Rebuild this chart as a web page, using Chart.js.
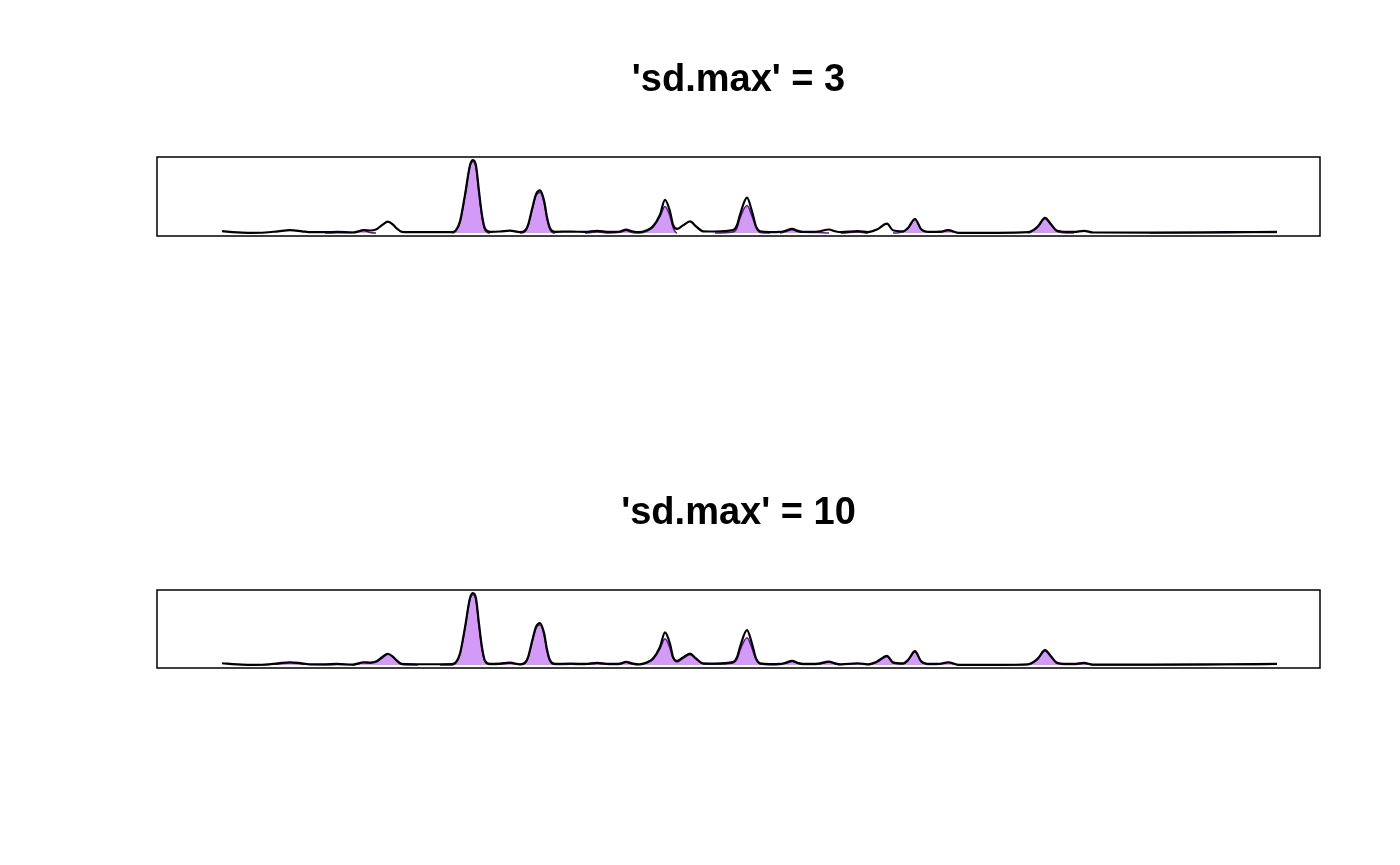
<!DOCTYPE html>
<html>
<head>
<meta charset="utf-8">
<script src="https://cdn.jsdelivr.net/npm/chart.js@4"></script>
<style>
  html, body { margin: 0; padding: 0; background: #fff; }
  .panel { position: absolute; left: 0; width: 1400px; }
</style>
</head>
<body>
<div class="panel" style="top:0;height:433px"><canvas id="chart1"></canvas></div>
<div class="panel" style="top:433px;height:432px"><canvas id="chart2"></canvas></div>
<script>
// positions along the axis (no ticks are shown in the original)
var posX = [222, 237, 250, 265, 278, 290, 302, 311, 325, 337, 353, 364, 370, 376, 382, 388, 393, 397, 402, 418,
  440, 452, 456, 460, 465, 470, 473, 476, 479, 482, 485, 490, 500, 510, 520, 525, 528, 532, 536, 540,
  544, 547, 550, 555, 571, 585, 597, 609, 620, 626, 632, 639, 646, 653, 660, 665, 670, 673, 677, 683,
  690, 696, 703, 715, 733, 737, 740, 747, 752, 756, 760, 770, 780, 786, 792, 798, 803, 818, 829, 835,
  841, 858, 868, 877, 887, 893, 903, 908, 915, 921, 930, 940, 948, 959, 998, 1028, 1034, 1038, 1045, 1051,
  1056, 1061, 1074, 1084, 1093, 1150, 1227, 1277];

// observed density (black curve), same in both panels
var density = [1.9, 0.8, 0.3, 0.6, 1.8, 2.9, 1.8, 0.9, 0.9, 1.2, 0.6, 2.9, 2.6, 3.6, 8, 11.6, 8.5, 4.5, 1.2, 0.9,
  0.9, 1.0, 3, 11.8, 38.5, 68.5, 73.6, 68, 42, 18, 4.5, 1.3, 1.6, 2.5, 0.9, 2.5, 8, 24, 39, 43,
  33, 16, 5, 1.3, 1.5, 1.2, 2.3, 1.2, 1.6, 3.4, 1.8, 0.9, 2.5, 6.8, 18.5, 33.5, 21.8, 8.5, 4.2, 7.8,
  11.8, 6.8, 1.8, 1.6, 3, 8, 18.5, 35.8, 21.8, 6.8, 1.8, 1.0, 1.2, 2.5, 4.3, 2.2, 1.2, 1.6, 3.6, 1.8,
  0.9, 1.9, 0.9, 3.6, 9.5, 2.8, 1.8, 5.2, 14.2, 4.2, 1.2, 1.4, 2.9, 0.3, 0.3, 0.9, 3.5, 6.9, 15.3, 9,
  3, 1.6, 1.2, 2.3, 0.6, 0.5, 0.9, 1.2];

// fitted components, 'sd.max' = 3
var fitSd3 = [0, 0, 0, 0, 0, 0, 0, 0, 0, 0.3, 0.5, 2.5, 0.5, 0, 0, 0, 0, 0, 0, 0,
  0, 0, 2, 11, 37.5, 67.5, 72, 66, 40, 16, 3, 0, 0, 0, 0, 1.5, 7, 23, 38, 41,
  31, 14, 3.5, 0, 0, 0, 1.0, 0, 0.8, 2.5, 0.5, 0, 1.5, 5.8, 16.8, 26.8, 16.8, 6, 0, 0,
  0, 0, 0, 0, 1, 5, 15, 27.8, 17, 6, 0.5, 0, 0, 1.5, 3.3, 1.2, 0.8, 0.5, 0, 0,
  0, 1.2, 0, 0, 0, 0, 1.2, 4.8, 13.8, 3.8, 0.8, 0.8, 2.5, 0, 0, 0, 2.8, 6.2, 14.5, 8.3,
  2.3, 0.5, 0, 0, 0, 0, 0.4, 0.6];

// fitted components, 'sd.max' = 10
var fitSd10 = [0, 0, 0, 0.2, 1.2, 2.2, 1.2, 0.3, 0.2, 0.5, 0.3, 2.3, 2.0, 3.0, 7.2, 11, 8, 3.8, 0.5, 0,
  0, 0.2, 2, 11, 37.5, 67.5, 72, 66, 40, 16, 3.5, 0.6, 0.9, 1.8, 0.3, 1.8, 7, 23, 38, 41,
  31, 14, 3.8, 0.6, 0.8, 0.6, 1.6, 0.6, 1.0, 2.8, 1.2, 0.3, 1.8, 5.8, 16.8, 27, 17, 7, 3.2, 6.8,
  10.5, 6, 1.2, 0.9, 2.2, 6, 15, 28, 17, 6, 1.2, 0.4, 0.6, 1.8, 3.6, 1.6, 0.6, 1.0, 3.0, 1.2,
  0.3, 1.3, 0.3, 3.0, 8.8, 2.2, 1.2, 4.6, 13.5, 3.6, 0.6, 0.8, 2.3, 0, 0, 0.3, 2.8, 6.2, 14.5, 8.3,
  2.3, 1.0, 0.6, 1.7, 0.2, 0.2, 0.5, 0.8];

var titles = ["'sd.max' = 3", "'sd.max' = 10"];

var boxPlugin = {
  id: 'box',
  afterDraw: function (chart) {
    var a = chart.chartArea, ctx = chart.ctx;
    ctx.save();
    ctx.strokeStyle = '#000';
    ctx.lineWidth = 1.5;
    ctx.strokeRect(a.left, a.top, a.right - a.left, a.bottom - a.top);
    ctx.restore();
  }
};

function toPoints(values) {
  return posX.map(function (x, i) { return { x: x, y: values[i] }; });
}

function makePanel(id, title, fit) {
  return new Chart(document.getElementById(id), {
    type: 'line',
    data: {
      datasets: [{
        label: 'density',
        data: toPoints(density),
        borderColor: '#000',
        borderWidth: 2.2,
        pointRadius: 0,
        fill: false,
        cubicInterpolationMode: 'monotone'
      }, {
        label: 'components',
        data: toPoints(fit),
        borderColor: '#5b1d8c',
        borderWidth: 1.5,
        backgroundColor: 'rgba(160, 32, 240, 0.45)',
        pointRadius: 0,
        fill: 'origin',
        cubicInterpolationMode: 'monotone',
        segment: {
          borderColor: function (c) {
            return (c.p0.parsed.y === 0 && c.p1.parsed.y === 0) ? 'rgba(0,0,0,0)' : undefined;
          }
        }
      }]
    },
    options: {
      responsive: true,
      maintainAspectRatio: false,
      animation: false,
      layout: { padding: { left: 157, right: 80, top: 0, bottom: 197 } },
      scales: {
        x: { type: 'linear', min: 157, max: 1320, display: false },
        y: { min: -2.95, max: 76.75, display: false }
      },
      plugins: {
        legend: { display: false },
        tooltip: { enabled: false },
        title: {
          display: true,
          text: title,
          color: '#000',
          font: { family: "'Liberation Sans', Arial, sans-serif", size: 38, weight: 'bold' },
          padding: { top: 57.5, bottom: 53.9 }
        }
      }
    },
    plugins: [boxPlugin]
  });
}

makePanel('chart1', titles[0], fitSd3);
makePanel('chart2', titles[1], fitSd10);
</script>
</body>
</html>
